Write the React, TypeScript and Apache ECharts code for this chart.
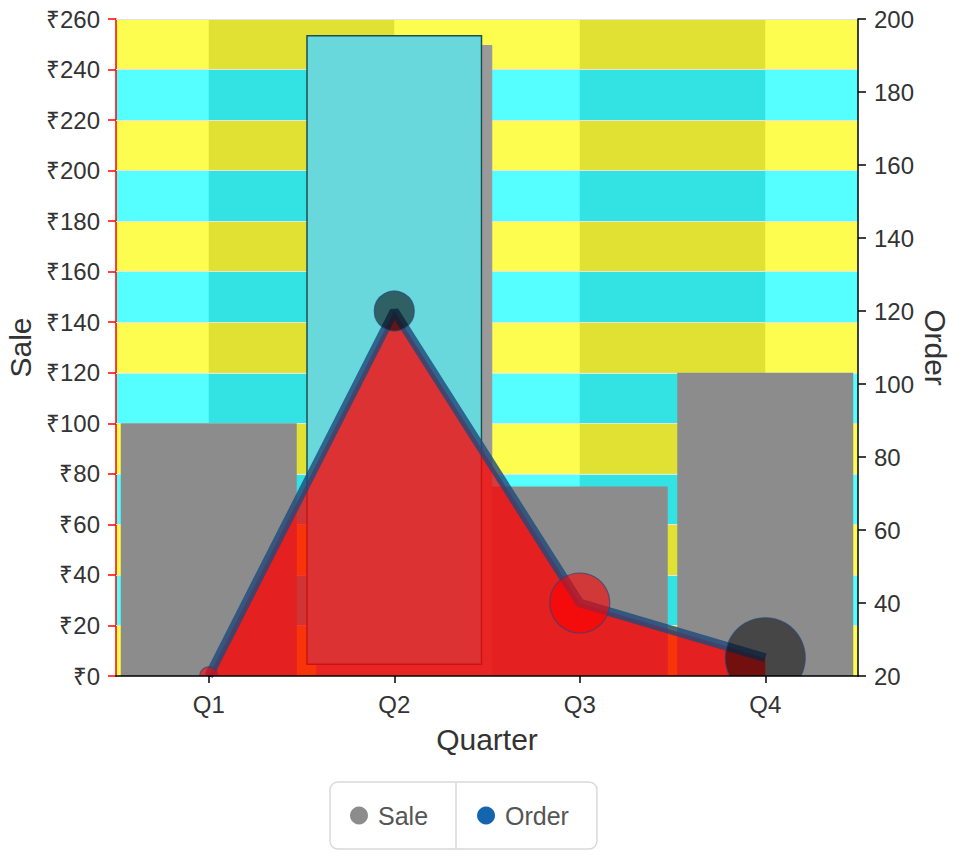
import React, { useEffect, useRef } from "react";
import * as echarts from "echarts";

// ---- data ----
const quarters = ["Q1", "Q2", "Q3", "Q4"];
const saleBase = [0, 4.4, 0, 0];
const saleValues = [100, 249.3, 75, 120];
const orderValues = [20, 120, 40, 25];
const orderBubbleSizes = [18, 40, 60, 80];
const saleTicks = [0, 20, 40, 60, 80, 100, 120, 140, 160, 180, 200, 220, 240, 260];
const orderTicks = [20, 40, 60, 80, 100, 120, 140, 160, 180, 200];
const darkColumns = [
  ["Q1", "Q2"],
  ["Q3", "Q4"],
];

// ---- styles ----
const FONT = "'Liberation Sans', Arial, Helvetica, sans-serif";
const LIGHT_BANDS = ["#fdfd50", "#55ffff"];
const DARK_BANDS = ["#e1e133", "#33e3e3"];
const BUBBLE_FILLS = [
  "rgba(255,0,0,0.6)",
  "rgba(0,0,0,0.55)",
  "rgba(255,0,0,0.6)",
  "rgba(0,0,0,0.5)",
];

function buildOption() {
  const cells: any[] = [];
  for (let b = 0; b < saleTicks.length - 1; b++) {
    darkColumns.forEach(([from, to]) => {
      cells.push([
        { xAxis: from, yAxis: saleTicks[b], itemStyle: { color: DARK_BANDS[b % 2] } },
        { xAxis: to, yAxis: saleTicks[b + 1] },
      ]);
    });
  }
  const gridLines = saleTicks.filter((t) => t > 0).map((t) => ({ yAxis: t }));

  return {
    animation: false,
    backgroundColor: "#fff",
    textStyle: { fontFamily: FONT },
    grid: {
      left: 116,
      right: 95,
      top: 19,
      bottom: 180,
      outerBoundsMode: "none",
    },
    legend: {
      left: 330,
      top: 782,
      orient: "horizontal",
      itemWidth: 28,
      itemHeight: 18,
      itemGap: 49,
      padding: [21, 28, 21, 20],
      borderColor: "#d9d9d9",
      borderWidth: 1.5,
      borderRadius: 8,
      textStyle: { fontSize: 25, color: "#555", fontFamily: FONT },
      selectedMode: false,
      data: [
        { name: "Sale", icon: "circle", itemStyle: { color: "#8c8c8c" } },
        { name: "Order", icon: "circle", itemStyle: { color: "#1565ae" } },
      ],
    },
    graphic: [
      {
        type: "line",
        shape: { x1: 456, y1: 783, x2: 456, y2: 849 },
        style: { stroke: "#d9d9d9", lineWidth: 1.5 },
        z: 20,
      },
    ],
    xAxis: {
      type: "category",
      data: quarters,
      z: 10,
      axisLine: { lineStyle: { color: "#000", width: 1.5 } },
      axisTick: { show: true, length: 7, alignWithLabel: true, lineStyle: { color: "#000", width: 1.5 } },
      axisLabel: { fontSize: 24, color: "#333", margin: 16, fontFamily: FONT },
      splitLine: { show: false },
      name: "Quarter",
      nameLocation: "middle",
      nameGap: 48,
      nameTextStyle: { fontSize: 30, color: "#333", fontFamily: FONT },
    },
    yAxis: [
      {
        type: "value",
        min: 0,
        max: 260,
        interval: 20,
        position: "left",
        axisLine: { show: true, lineStyle: { color: "#ff0000", width: 1.5 } },
        axisTick: { show: true, length: 8, lineStyle: { color: "#ff0000", width: 1.5 } },
        axisLabel: { formatter: "₹{value}", fontSize: 24, color: "#333", margin: 16, fontFamily: FONT },
        splitLine: { show: false },
        splitArea: { show: true, areaStyle: { color: LIGHT_BANDS } },
        name: "Sale",
        nameLocation: "middle",
        nameGap: 80,
        nameTextStyle: { fontSize: 30, color: "#333", fontFamily: FONT },
      },
      {
        type: "value",
        min: orderTicks[0],
        max: orderTicks[orderTicks.length - 1],
        interval: 20,
        position: "right",
        z: 10,
        axisLine: { show: true, lineStyle: { color: "#000", width: 1.5 } },
        axisTick: { show: true, length: 8, lineStyle: { color: "#000", width: 1.5 } },
        axisLabel: { fontSize: 24, color: "#333", margin: 16, fontFamily: FONT },
        splitLine: { show: false },
        name: "Order",
        nameLocation: "middle",
        nameRotate: -90,
        nameGap: 62,
        nameMoveOverlap: false,
        nameTextStyle: { fontSize: 30, color: "#333", fontFamily: FONT },
      },
    ],
    series: [
      {
        name: "bg-cells",
        type: "line",
        data: [],
        z: 1,
        silent: true,
        markArea: { silent: true, z: 1, label: { show: false }, data: cells },
      },
      {
        name: "bg-lines",
        type: "line",
        data: [],
        z: 2,
        silent: true,
        markLine: {
          silent: true,
          z: 2,
          symbol: ["none", "none"],
          label: { show: false },
          lineStyle: { color: "#e4e4e4", width: 1.2, type: "solid" },
          data: gridLines,
        },
      },
      {
        name: "SaleBase",
        type: "bar",
        stack: "sale",
        z: 3,
        barWidth: 176,
        silent: true,
        itemStyle: { color: "rgba(0,0,0,0)" },
        data: saleBase,
      },
      {
        name: "Sale",
        type: "bar",
        stack: "sale",
        z: 3,
        barWidth: 176,
        itemStyle: { color: "#8c8c8c" },
        data: saleValues.map((v, i) =>
          i === 1
            ? {
                value: v,
                itemStyle: {
                  color: "#67d8dd",
                  borderColor: "#1e4f50",
                  borderWidth: 1.5,
                  shadowColor: "#9a9a9a",
                  shadowOffsetX: 10,
                  shadowOffsetY: 10,
                  shadowBlur: 0,
                },
              }
            : v
        ),
      },
      {
        name: "Order",
        type: "line",
        yAxisIndex: 1,
        z: 4,
        symbol: "none",
        data: orderValues,
        itemStyle: { color: "#1565ae" },
        lineStyle: { color: "#1d4a7c", width: 9, opacity: 0.8 },
        areaStyle: { color: "#ff0000", opacity: 0.77, origin: "start" },
      },
      {
        name: "OrderBubbles",
        type: "custom",
        yAxisIndex: 1,
        z: 5,
        clip: true,
        silent: true,
        data: quarters.map((q, i) => [i, orderValues[i], orderBubbleSizes[i]]),
        encode: { x: 0, y: 1 },
        renderItem: (params: any, api: any) => {
          const idx = params.dataIndex;
          const p = api.coord([api.value(0), api.value(1)]);
          const r = api.value(2) / 2;
          return {
            type: "circle",
            shape: { cx: p[0], cy: p[1], r },
            style: { fill: BUBBLE_FILLS[idx], stroke: "rgba(40,70,120,0.7)", lineWidth: 1.2 },
          };
        },
      },
    ],
  };
}

export default function App() {
  const ref = useRef<HTMLDivElement>(null);
  useEffect(() => {
    if (!ref.current) return;
    const chart = echarts.init(ref.current, null, { renderer: "svg" });
    chart.setOption(buildOption() as any);
    return () => chart.dispose();
  }, []);
  return (
    <div
      ref={ref}
      style={{ position: "fixed", left: 0, top: 0, width: 953, height: 856 }}
    />
  );
}
